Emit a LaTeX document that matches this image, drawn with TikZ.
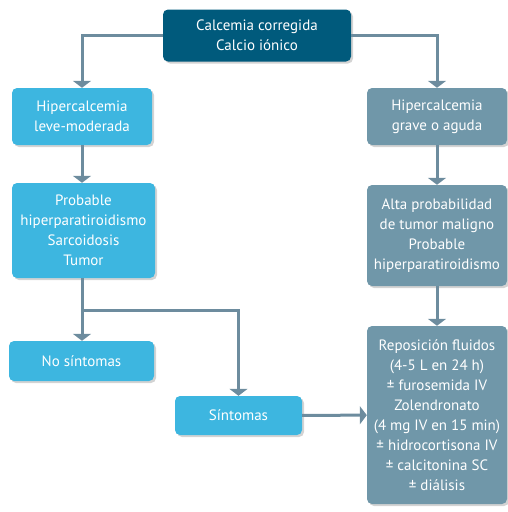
\documentclass[tikz,border=0pt]{standalone}
\usepackage{fontspec}
\setmainfont{PT Sans}
\usetikzlibrary{arrows.meta,shadows}

\definecolor{darkteal}{HTML}{005A7C}
\definecolor{skyblue}{HTML}{3DB6E0}
\definecolor{slateblue}{HTML}{7097A9}
\definecolor{linkgray}{HTML}{6D8C9E}

\begin{document}
\begin{tikzpicture}[x=1pt,y=-1pt,
    >={Triangle[width=18pt,length=7pt]},
    box/.style={rectangle,rounded corners=5pt,text=white,align=center,
                inner sep=0pt,font=\fontsize{15}{20}\selectfont,
                drop shadow={opacity=0.35,shadow xshift=2pt,shadow yshift=-2pt}},
    top node/.style={box,fill=darkteal},
    mild node/.style={box,fill=skyblue},
    severe node/.style={box,fill=slateblue},
    link/.style={draw=linkgray,line width=3pt,->,color=linkgray}]
  \useasboundingbox (0,0) rectangle (508,512);
  \node[top node,minimum width=188pt,minimum height=52pt] (calcemia) at (257,35.5)
    {Calcemia corregida\\Calcio iónico};
  \node[mild node,minimum width=140pt,minimum height=57pt] (leve) at (82,116.5)
    {Hipercalcemia\\leve-moderada};
  \node[severe node,minimum width=140pt,minimum height=57pt] (grave) at (437,116.5)
    {Hipercalcemia\\grave o aguda};
  \node[mild node,minimum width=143pt,minimum height=95pt] (probable) at (83.5,230.5)
    {Probable\\hiperparatiroidismo\\Sarcoidosis\\Tumor};
  \node[severe node,minimum width=140pt,minimum height=101pt] (alta) at (437,235.5)
    {Alta probabilidad\\de tumor maligno\\Probable\\hiperparatiroidismo};
  \node[mild node,minimum width=145pt,minimum height=40pt] (nosint) at (81.5,361)
    {No síntomas};
  \node[mild node,minimum width=127pt,minimum height=39pt] (sint) at (238.5,415.5)
    {Síntomas};
  \node[severe node,minimum width=140pt,minimum height=178pt] (repos) at (437,415)
    {Reposición fluidos\\(4-5 L en 24 h)\\± furosemida IV\\Zolendronato\\(4 mg IV en 15 min)\\± hidrocortisona IV\\± calcitonina SC\\± diálisis};
  \coordinate (split) at (82,310);
  \draw[link] (calcemia.west) -| (leve.north);
  \draw[link] (calcemia.east) -| (grave.north);
  \draw[link] (leve.south) -- (leve.south |- probable.north);
  \draw[link] (grave) -- (alta);
  \draw[link] (alta) -- (repos);
  \draw[link] (probable.south -| split) -- (nosint.north -| split);
  \draw[link] (split) -| (sint.north);
  \draw[link] (sint) -- (repos);
\end{tikzpicture}
\end{document}
